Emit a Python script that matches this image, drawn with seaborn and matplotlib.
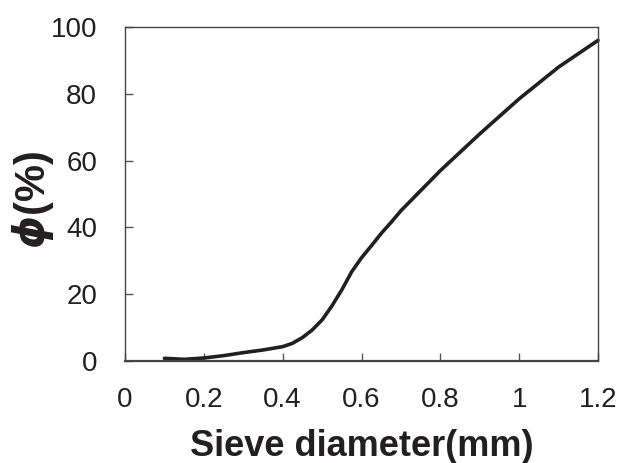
import matplotlib
matplotlib.use("Agg")
import numpy as np
import pandas as pd
import seaborn as sns
import matplotlib.pyplot as plt

# Curva granulométrica
diametro = [0.10, 0.15, 0.20, 0.25, 0.30, 0.35, 0.375, 0.40, 0.425, 0.45,
            0.475, 0.50, 0.525, 0.55, 0.575, 0.60, 0.625, 0.65, 0.675,
            0.70, 0.80, 0.90, 1.00, 1.10, 1.20]
pasante = [0.8, 0.5, 0.9, 1.6, 2.5, 3.3, 3.8, 4.3, 5.3, 7.0,
           9.3, 12.3, 16.5, 21.3, 26.7, 30.9, 34.5, 38.2, 41.5,
           45.0, 57.0, 68.0, 78.5, 88.0, 96.0]

x_ticks = [0, 0.2, 0.4, 0.6, 0.8, 1.0, 1.2]
x_labels = ["0", "0.2", "0.4", "0.6", "0.8", "1", "1.2"]
y_ticks = [0, 20, 40, 60, 80, 100]

df = pd.DataFrame({"d": diametro, "phi": pasante})

sns.set_theme(style="white")
plt.rcParams["font.family"] = ["Liberation Sans", "DejaVu Sans"]
plt.rcParams["mathtext.fontset"] = "custom"
plt.rcParams["mathtext.it"] = "DejaVu Sans:italic:bold"

fig = plt.figure(figsize=(6.33, 4.63), dpi=100)
ax = fig.add_axes([125 / 633, 1 - 361 / 463, 473 / 633, 334 / 463])

sns.lineplot(data=df, x="d", y="phi", ax=ax, color="#231f20",
             linewidth=2.6, clip_on=False)

ax.set_xlim(0, 1.2)
ax.set_ylim(0, 100)
ax.set_xticks(x_ticks)
ax.set_xticklabels(x_labels)
ax.set_yticks(y_ticks)

ax.tick_params(axis="both", direction="in", length=6, width=1,
               color="#555555", labelsize=20, labelcolor="#231f20",
               bottom=True, left=True)
ax.tick_params(axis="x", pad=19)
ax.tick_params(axis="y", pad=20)

for s in ax.spines.values():
    s.set_color("#444444")
    s.set_linewidth(1.0)
ax.spines["bottom"].set_linewidth(1.6)

ax.set_xlabel("Sieve diameter(mm)", fontsize=26, fontweight="bold",
              color="#231f20", labelpad=11)
ax.set_ylabel(r"$\phi$(%)", fontsize=30, fontweight="bold",
              color="#231f20", va="center")
# posición de la etiqueta Y (centro aprox. x=33 px, y=200 px)
ax.yaxis.set_label_coords((33 - 125) / 473, (361 - 200) / 334)

fig.savefig("out.png", dpi=100)
